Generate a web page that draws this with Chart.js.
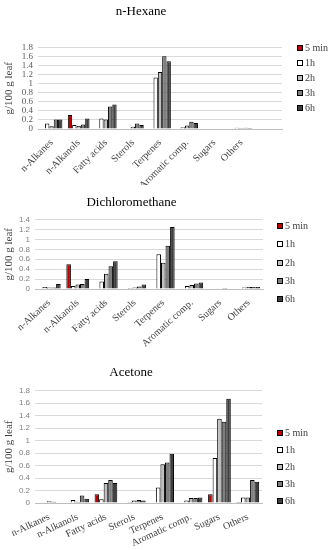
<!DOCTYPE html>
<html>
<head>
<meta charset="utf-8">
<script src="https://cdn.jsdelivr.net/npm/chart.js@4.4.1/dist/chart.umd.min.js"></script>
<style>
  html, body { margin: 0; padding: 0; background: #fff; }
  body { width: 332px; height: 550px; position: relative; overflow: hidden; }
  canvas { position: absolute; left: 0; }
</style>
</head>
<body>
<canvas id="hexane" width="332" height="195" style="top:0"></canvas>
<canvas id="dcm" width="332" height="180" style="top:185px"></canvas>
<canvas id="acetone" width="332" height="185" style="top:365px"></canvas>
<script>
// Categories and extraction times
const categories = ["n-Alkanes", "n-Alkanols", "Fatty acids", "Sterols", "Terpenes", "Aromatic comp.", "Sugars", "Others"];
const series = ["5 min", "1h", "2h", "3h", "6h"];
const seriesColors = ["#c00000", "#ffffff", "#bfbfbf", "#7f7f7f", "#3f3f3f"];

// n-Hexane extract (g/100 g leaf)
const hexane5min = [null, 0.31, null, null, null, null, null, null];
const hexane1h   = [0.12, 0.09, 0.23, null, 1.14, 0.04, null, 0.03];
const hexane2h   = [0.06, 0.07, 0.21, 0.05, 1.26, 0.08, null, 0.02];
const hexane3h   = [0.21, 0.10, 0.50, 0.12, 1.61, 0.16, null, 0.03];
const hexane6h   = [0.21, 0.23, 0.54, 0.09, 1.50, 0.13, null, 0.02];

// Dichloromethane extract
const dcm5min = [null, 0.50, null, null, null, null, null, null];
const dcm1h   = [0.04, 0.06, 0.15, 0.02, 0.70, 0.06, 0.005, 0.03];
const dcm2h   = [0.03, 0.09, 0.31, 0.03, 0.53, 0.08, 0.01, 0.04];
const dcm3h   = [0.03, 0.10, 0.46, 0.05, 0.87, 0.11, 0.02, 0.04];
const dcm6h   = [0.10, 0.20, 0.56, 0.09, 1.25, 0.13, 0.01, 0.04];

// Acetone extract
const ace5min = [null, null, 0.14, null, null, null, 0.14, 0.015];
const ace1h   = [0.01, 0.05, 0.06, 0.015, 0.25, 0.04, 0.72, 0.09];
const ace2h   = [0.03, 0.02, 0.32, 0.04, 0.62, 0.08, 1.35, 0.09];
const ace3h   = [0.02, 0.12, 0.37, 0.05, 0.65, 0.08, 1.30, 0.37];
const ace6h   = [0.01, 0.07, 0.32, 0.04, 0.79, 0.09, 1.67, 0.34];

const SERIF = "'Liberation Serif', 'DejaVu Serif', serif";
const SANS = "'Liberation Sans', 'DejaVu Sans', sans-serif";

// small legend drawn at the right, Excel style
const sideLegend = {
  id: "sideLegend",
  afterDraw(chart, args, o) {
    const ctx = chart.ctx;
    ctx.save();
    ctx.font = `${o.size}px ${SERIF}`;
    ctx.textBaseline = "middle";
    chart.data.datasets.forEach((ds, i) => {
      const y = Math.round(o.y + i * o.step);
      ctx.fillStyle = ds.backgroundColor;
      ctx.fillRect(o.x, y - 3, 6, 6);
      ctx.strokeStyle = "#000";
      ctx.lineWidth = 1;
      ctx.strokeRect(o.x + 0.5, y - 2.5, 5, 5);
      ctx.fillStyle = "#404040";
      ctx.fillText(ds.label, o.x + 8, y + 0.5);
    });
    ctx.restore();
  }
};

function makeChart(id, c) {
  return new Chart(document.getElementById(id), {
    type: "bar",
    data: {
      labels: c.labels,
      datasets: c.data.map((d, i) => ({
        label: series[i], data: d,
        backgroundColor: seriesColors[i], borderColor: "#000", borderWidth: 1,
        categoryPercentage: 0.8, barPercentage: 1
      }))
    },
    options: {
      responsive: false, animation: false,
      layout: { padding: { left: 0, right: c.padRight, top: 0, bottom: c.padBottom || 0 } },
      plugins: {
        legend: { display: false },
        tooltip: { enabled: false },
        title: {
          display: true, text: c.title, color: "#000",
          font: { family: SERIF, size: 13, weight: "normal" },
          padding: c.titlePad
        },
        sideLegend: c.legend
      },
      scales: {
        x: {
          grid: { display: false },
          border: { display: true, color: "#bfbfbf" },
          afterFit: s => { s.height = c.xHeight; },
          ticks: {
            autoSkip: false, minRotation: c.rotation, maxRotation: c.rotation,
            color: "#404040", padding: 0, font: { family: SERIF, size: c.labelSize }
          }
        },
        y: {
          min: 0, max: c.yMax,
          afterFit: s => { s.width = c.yWidth; },
          grid: { color: "#d9d9d9", drawTicks: false },
          border: { display: false },
          ticks: {
            count: c.tickCount, autoSkip: false, padding: 5, color: c.tickColor,
            font: { family: c.tickFamily, size: c.tickSize },
            callback: v => String(+v.toFixed(1))
          },
          title: {
            display: true, text: "g/100 g leaf", color: "#404040",
            font: { family: SERIF, size: c.yTitleSize }, padding: { top: 3, bottom: 0 }
          }
        }
      }
    },
    plugins: [sideLegend]
  });
}

makeChart("hexane", {
  title: "n-Hexane", labels: [...categories, ""],
  data: [hexane5min, hexane1h, hexane2h, hexane3h, hexane6h],
  yMax: 1.8, tickCount: 10, yWidth: 38, xHeight: 56, padRight: 50, padBottom: 10, rotation: 45,
  titlePad: { top: 4, bottom: 28 },
  tickFamily: SERIF, tickSize: 9, tickColor: "#595959", labelSize: 10, yTitleSize: 11,
  legend: { x: 297, y: 48, step: 15, size: 10 }
});

makeChart("dcm", {
  title: "Dichloromethane", labels: categories,
  data: [dcm5min, dcm1h, dcm2h, dcm3h, dcm6h],
  yMax: 1.4, tickCount: 8, yWidth: 35, xHeight: 76, padRight: 69, rotation: 42,
  titlePad: { top: 10, bottom: 9 },
  tickFamily: SANS, tickSize: 8, tickColor: "#7f7f7f", labelSize: 10, yTitleSize: 11,
  legend: { x: 277, y: 41, step: 18.3, size: 10 }
});

makeChart("acetone", {
  title: "Acetone", labels: categories,
  data: [ace5min, ace1h, ace2h, ace3h, ace6h],
  yMax: 1.8, tickCount: 10, yWidth: 35, xHeight: 47, padRight: 70, rotation: 25,
  titlePad: { top: 0, bottom: 10 },
  tickFamily: SANS, tickSize: 8, tickColor: "#7f7f7f", labelSize: 10, yTitleSize: 11,
  legend: { x: 277, y: 68, step: 17, size: 10 }
});
</script>
</body>
</html>
